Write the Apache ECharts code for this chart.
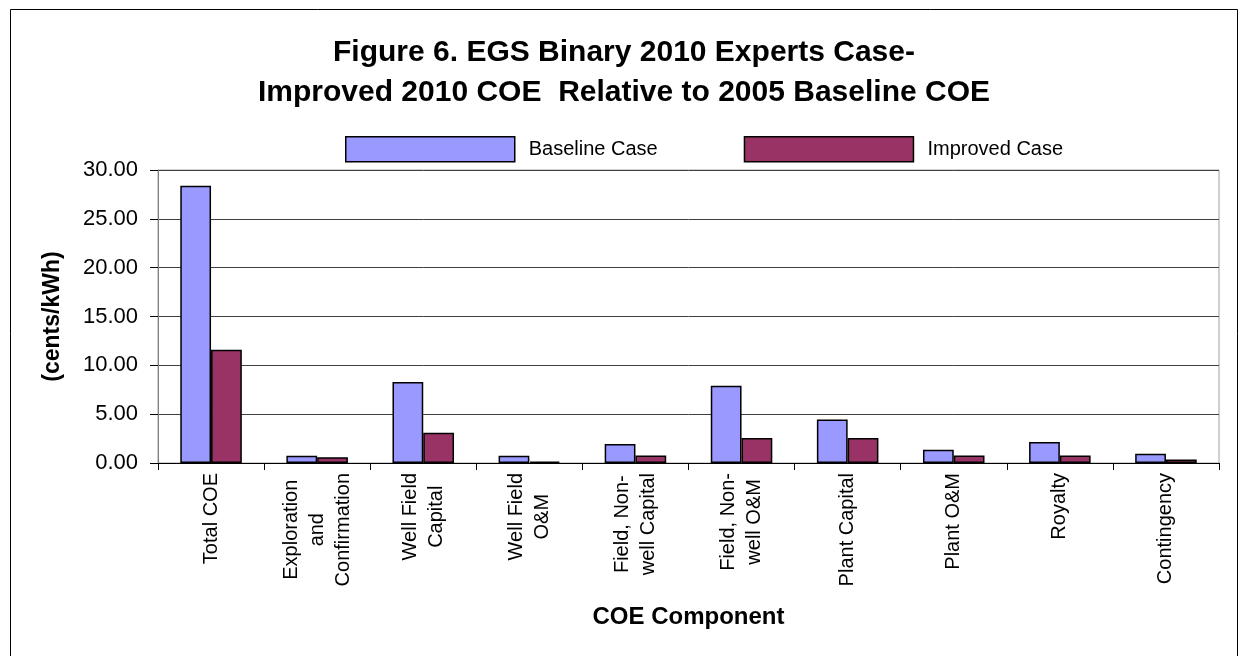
<!DOCTYPE html>
<html>
<head>
<meta charset="utf-8">
<script src="https://cdn.jsdelivr.net/npm/echarts@6/dist/echarts.min.js"></script>
<style>
html,body{margin:0;padding:0;background:#fff;}
#chart{width:1238px;height:656px;}
</style>
</head>
<body>
<div id="chart"></div>
<script>
const titleLines = ['Figure 6. EGS Binary 2010 Experts Case-', 'Improved 2010 COE  Relative to 2005 Baseline COE'];
const categories = [
  'Total COE',
  'Exploration\nand\nConfirmation',
  'Well Field\nCapital',
  'Well Field\nO&M',
  'Field, Non-\nwell Capital',
  'Field, Non-\nwell O&M',
  'Plant Capital',
  'Plant O&M',
  'Royalty',
  'Contingency'
];
const seriesNames = ['Baseline Case', 'Improved Case'];
const baselineValues = [28.4, 0.75, 8.3, 0.75, 1.95, 7.9, 4.45, 1.35, 2.15, 0.95];
const improvedValues = [11.6, 0.6, 3.1, 0.15, 0.78, 2.55, 2.55, 0.78, 0.78, 0.37];
const yAxisName = '(cents/kWh)';
const xAxisName = 'COE Component';

const FONT = '"Liberation Sans", Arial, sans-serif';
const chart = echarts.init(document.getElementById('chart'), null, {renderer: 'canvas'});
const option = {
  animation: false,
  backgroundColor: '#fff',
  textStyle: {fontFamily: FONT, color: '#000'},
  title: {
    text: titleLines.join('\n'),
    left: 624,
    textAlign: 'center',
    top: 33,
    padding: 0,
    textStyle: {fontFamily: FONT, fontWeight: 'bold', fontSize: 30, lineHeight: 40, color: '#000'}
  },
  legend: {
    left: 345,
    top: 136,
    padding: 0,
    itemWidth: 169,
    itemHeight: 25,
    itemGap: 86,
    icon: 'rect',
    itemStyle: {borderColor: '#000', borderWidth: 1.5},
    textStyle: {fontFamily: FONT, fontSize: 20, color: '#000', padding: [0, 0, 0, 9]},
    data: seriesNames
  },
  grid: {
    left: 158, right: 19, top: 170, bottom: 193,
    show: true, borderColor: '#a0a0a0', borderWidth: 1, backgroundColor: '#fff'
  },
  xAxis: {
    type: 'category',
    data: categories,
    name: xAxisName,
    nameLocation: 'middle',
    nameGap: 142,
    nameTextStyle: {fontFamily: FONT, fontWeight: 'bold', fontSize: 24, color: '#000'},
    axisLine: {show: true, lineStyle: {color: '#000', width: 1}},
    axisTick: {show: true, alignWithLabel: false, length: 7, lineStyle: {color: '#000'}},
    axisLabel: {
      interval: 0,
      rotate: 90,
      margin: 10,
      fontFamily: FONT,
      fontSize: 20,
      color: '#000',
      lineHeight: 26,
      formatter: function (v) {
        return v.split('\n').map(function (s) { return '{c|' + s + '}'; }).join('\n');
      },
      rich: {c: {align: 'center', fontFamily: FONT, fontSize: 20, lineHeight: 26, color: '#000'}}
    },
    splitLine: {show: false}
  },
  yAxis: {
    type: 'value',
    min: 0, max: 30, interval: 5,
    name: yAxisName,
    nameLocation: 'middle',
    nameGap: 94,
    nameTextStyle: {fontFamily: FONT, fontWeight: 'bold', fontSize: 23, color: '#000'},
    axisLine: {show: true, lineStyle: {color: '#808080', width: 1}},
    axisTick: {show: true, length: 8, lineStyle: {color: '#000'}},
    axisLabel: {
      margin: 20,
      fontFamily: FONT, fontSize: 22, color: '#000',
      formatter: function (v) { return v.toFixed(2); }
    },
    splitLine: {show: true, lineStyle: {color: '#404040', width: 1}}
  },
  series: [
    {
      name: seriesNames[0], type: 'bar', data: baselineValues,
      barGap: '0%', barCategoryGap: '42%',
      itemStyle: {color: '#9999FF', borderColor: '#000', borderWidth: 1.5}
    },
    {
      name: seriesNames[1], type: 'bar', data: improvedValues,
      barGap: '0%', barCategoryGap: '42%',
      itemStyle: {color: '#993366', borderColor: '#000', borderWidth: 1.5}
    }
  ],
  graphic: [
    {
      type: 'rect', silent: true, z: 100,
      shape: {x: 10.5, y: 9.5, width: 1227, height: 700},
      style: {fill: 'none', stroke: '#000', lineWidth: 1}
    }
  ]
};
chart.setOption(option);
</script>
</body>
</html>
